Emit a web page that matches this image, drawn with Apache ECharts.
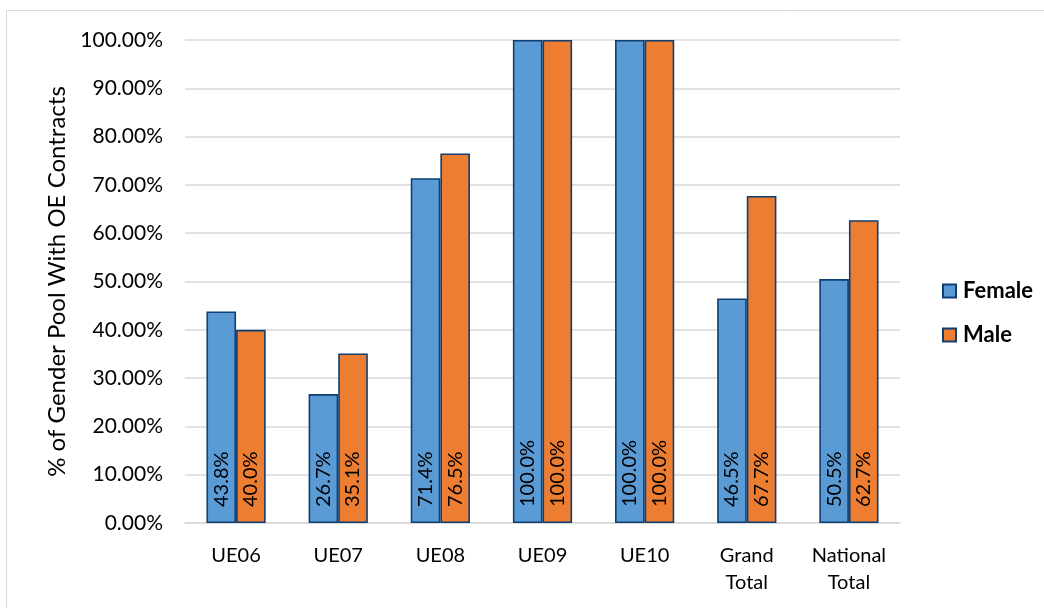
<!DOCTYPE html>
<html>
<head>
<meta charset="utf-8">
<script src="https://cdn.jsdelivr.net/npm/echarts@6/dist/echarts.min.js"></script>
<style>
  html, body { margin: 0; padding: 0; background: #fff; }
  #chart { width: 1044px; height: 608px; }
</style>
</head>
<body>
<div id="chart"></div>
<script>
// Share of each gender pool holding OE contracts, by grade
const categories = ['UE06', 'UE07', 'UE08', 'UE09', 'UE10', 'Grand\nTotal', 'National\nTotal'];
const female = [43.8, 26.7, 71.4, 100.0, 100.0, 46.5, 50.5];
const male = [40.0, 35.1, 76.5, 100.0, 100.0, 67.7, 62.7];
const yTicks = [0, 10, 20, 30, 40, 50, 60, 70, 80, 90, 100];

const FONT = 'Lato, "Open Sans", sans-serif';
const EDGE = '#0E3F72';

const chart = echarts.init(document.getElementById('chart'), null, { renderer: 'canvas' });

function barSeries(name, data, color) {
  return {
    name: name,
    type: 'bar',
    data: data,
    barGap: '0%',
    barCategoryGap: '42%',
    itemStyle: { color: color, borderColor: EDGE, borderWidth: 1.6 },
    label: {
      show: true,
      position: 'insideBottom',
      rotate: 90,
      align: 'left',
      verticalAlign: 'middle',
      distance: 16,
      color: '#000',
      fontFamily: FONT,
      fontSize: 20,
      formatter: p => p.value.toFixed(1) + '%'
    }
  };
}

chart.setOption({
  animation: false,
  backgroundColor: '#fff',
  textStyle: { fontFamily: FONT },
  graphic: [{
    type: 'rect',
    shape: { x: 6.5, y: 10.5, width: 1100, height: 700 },
    style: { fill: 'none', stroke: '#D9D9D9', lineWidth: 1 },
    silent: true
  }],
  grid: { left: 185, right: 144, top: 40, bottom: 85, containLabel: false },
  legend: {
    orient: 'vertical',
    left: 937,
    top: 275,
    itemGap: 22,
    itemWidth: 13,
    itemHeight: 13,
    icon: 'rect',
    textStyle: { fontFamily: FONT, fontSize: 22, fontWeight: 'bold', color: '#000', padding: [0, 0, 0, 2] },
    data: ['Female', 'Male']
  },
  xAxis: {
    type: 'category',
    data: categories,
    axisLine: { show: true, lineStyle: { color: '#D9D9D9', width: 1.5 } },
    axisTick: { show: false },
    axisLabel: {
      color: '#000',
      fontFamily: FONT,
      fontSize: 20,
      lineHeight: 27,
      margin: 19,
      interval: 0
    }
  },
  yAxis: {
    type: 'value',
    min: 0,
    max: 100,
    interval: 10,
    name: '% of Gender Pool With OE Contracts',
    nameLocation: 'middle',
    nameGap: 112,
    nameTextStyle: { color: '#000', fontFamily: FONT, fontSize: 24 },
    axisLine: { show: false },
    axisTick: { show: false },
    splitLine: { lineStyle: { color: '#D9D9D9', width: 1.5 } },
    axisLabel: {
      color: '#000',
      fontFamily: FONT,
      fontSize: 21,
      margin: 22,
      customValues: yTicks,
      formatter: v => v.toFixed(2) + '%'
    }
  },
  series: [
    barSeries('Female', female, '#5B9BD5'),
    barSeries('Male', male, '#ED7D31')
  ]
});
</script>
</body>
</html>
